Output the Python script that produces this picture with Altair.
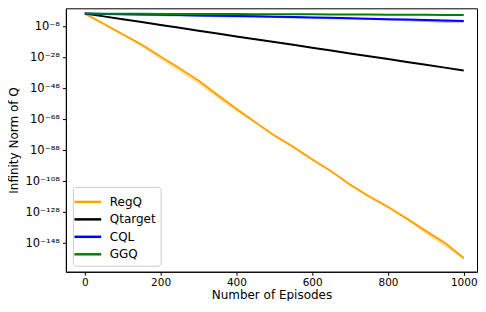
import altair as alt
import pandas as pd

# Episodes (x) at which values were read
episodes = [0, 50, 100, 150, 200, 250, 300, 350, 400, 450, 500,
            550, 600, 650, 700, 750, 800, 850, 900, 950, 1000]

# log10 of the infinity norm (mean line)
regq = [0.2, -6.5, -13.3, -19.9, -27.5, -35.1, -43.0, -52.3, -61.3, -70.0, -78.5,
        -85.9, -93.9, -101.6, -110.2, -117.8, -124.6, -132.2, -140.1, -147.8, -157.7]
regq_lo = [0.2, -6.7, -13.6, -21.3, -29.5, -37.3, -45.2, -54.4, -63.0, -70.8, -79.0,
           -86.3, -94.3, -102.0, -110.6, -118.3, -125.1, -133.1, -142.3, -150.2, -158.6]
regq_hi = [0.2, -6.3, -13.0, -19.5, -27.0, -34.7, -42.6, -51.9, -60.9, -69.6, -78.1,
           -85.5, -93.5, -101.2, -109.8, -117.4, -124.2, -131.8, -139.7, -147.4, -157.2]

qtarget = [0.2, -1.6, -3.5, -5.3, -7.2, -9.0, -10.9, -12.7, -14.6, -16.4, -18.2,
           -20.0, -21.9, -23.7, -25.6, -27.4, -29.2, -31.0, -32.9, -34.7, -36.5]

cql = [0.2, 0.0, -0.2, -0.4, -0.6, -0.8, -1.0, -1.2, -1.4, -1.6, -1.8,
       -2.05, -2.3, -2.55, -2.8, -3.1, -3.4, -3.7, -4.0, -4.3, -4.6]
cql_lo = [0.2, -0.4, -0.8, -1.2, -1.5, -1.7, -1.9, -2.1, -2.3, -2.5, -2.7,
          -2.9, -3.1, -3.4, -3.7, -4.0, -4.3, -4.8, -5.3, -5.7, -5.6]
cql_hi = [0.2, 0.2, 0.1, 0.0, -0.1, -0.3, -0.5, -0.7, -0.9, -1.1, -1.3,
          -1.6, -1.9, -2.2, -2.5, -2.8, -3.1, -3.4, -3.7, -4.0, -4.3]

ggq = [0.2, 0.15, 0.1, 0.05, 0.0, -0.05, -0.1, -0.12, -0.15, -0.2, -0.25,
       -0.28, -0.3, -0.35, -0.4, -0.45, -0.5, -0.55, -0.6, -0.65, -0.7]

series_names = ["RegQ", "Qtarget", "CQL", "GGQ"]
series_colors = ["orange", "black", "blue", "green"]
x_ticks = [0, 200, 400, 600, 800, 1000]
y_tick_exps = [-8, -28, -48, -68, -88, -108, -128, -148]

sup = str.maketrans("-0123456789", "⁻⁰¹²³⁴⁵⁶⁷⁸⁹")

rows = []
spec = [
    ("RegQ", regq, regq_lo, regq_hi),
    ("Qtarget", qtarget, qtarget, qtarget),
    ("CQL", cql, cql_lo, cql_hi),
    ("GGQ", ggq, ggq, ggq),
]
for name, mid, lo, hi in spec:
    for e, m, l, h in zip(episodes, mid, lo, hi):
        rows.append({"series": name, "episode": e,
                     "value": 10.0 ** m, "lo": 10.0 ** l, "hi": 10.0 ** h})
df = pd.DataFrame(rows)

label_expr = "".join(
    f"round(-log(datum.value)/LN10) == {-k} ? '10{str(k).translate(sup)}' : "
    for k in y_tick_exps
) + "''"

font = "DejaVu Sans"
x_scale = alt.Scale(domain=[-50, 1035], nice=False, zero=False)
y_scale = alt.Scale(type="log", domain=[10.0 ** -166.5, 10.0 ** 3.6], nice=False)
color_scale = alt.Scale(domain=series_names, range=series_colors)

legend = alt.Legend(title=None, orient="none", legendX=7, legendY=179,
                    symbolType="M-1.55,0H1.55", symbolSize=300,
                    symbolStrokeWidth=2.5, symbolOpacity=1,
                    labelFontSize=12, labelFont=font, labelColor="black",
                    labelOffset=12, rowPadding=1.5, padding=5,
                    strokeColor="#cccccc", cornerRadius=3,
                    fillColor="rgba(255,255,255,0.8)")
color_enc = alt.Color("series:N", scale=color_scale, sort=series_names, legend=legend)

x_enc = alt.X("episode:Q", scale=x_scale,
              axis=alt.Axis(title="Number of Episodes", values=x_ticks, format="d",
                            grid=False, tickSize=3.5, labelPadding=2, titlePadding=2,
                            labelFontSize=10.5, titleFontSize=12, labelFont=font,
                            titleFont=font, titleFontWeight="normal",
                            domainColor="black", tickColor="black",
                            labelColor="black", titleColor="black"))
y_enc = alt.Y("value:Q", scale=y_scale,
              axis=alt.Axis(title="Infinity Norm of Q", values=[10.0 ** k for k in y_tick_exps],
                            labelExpr=label_expr, grid=False, tickSize=3.5, labelPadding=3,
                            labelFontSize=11.5, titleFontSize=12, labelFont=font,
                            titleFont=font, titleFontWeight="normal",
                            titleX=-45, titleBaseline="bottom",
                            domainColor="black", tickColor="black",
                            labelColor="black", titleColor="black"))

band = alt.Chart(df).mark_area(opacity=0.35).encode(
    x=alt.X("episode:Q", scale=x_scale),
    y=alt.Y("lo:Q", scale=y_scale),
    y2="hi:Q",
    color=color_enc,
    detail="series:N",
)

lines = alt.Chart(df).mark_line(strokeWidth=2).encode(
    x=x_enc,
    y=y_enc,
    color=color_enc,
)

chart = alt.layer(band, lines).properties(
    width=412, height=264, padding={"left": 0, "top": 0, "right": 0, "bottom": 0}
).configure_view(stroke="black", strokeWidth=1)

chart.save("out.html", embed_options={"renderer": "svg", "actions": False})
